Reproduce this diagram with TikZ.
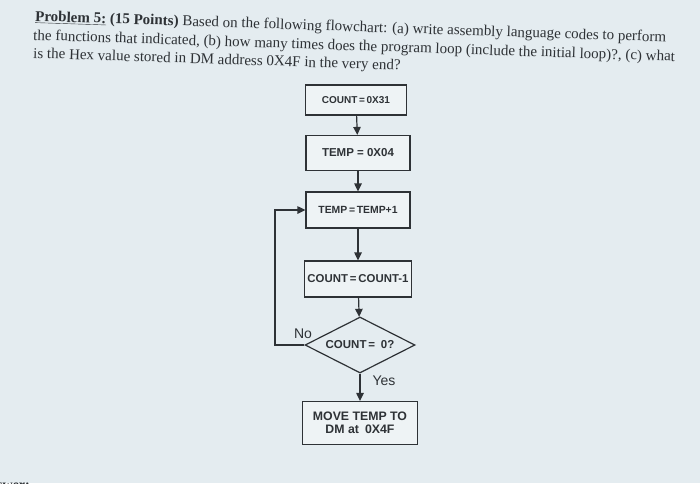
\documentclass[tikz,border=0pt]{standalone}
\usepackage{fontspec}
\setmainfont{Liberation Serif}
\newfontfamily\flowfont{Liberation Sans}
\usetikzlibrary{shapes.geometric,arrows.meta}
\definecolor{paper}{HTML}{E4ECF0}
\definecolor{boxfill}{HTML}{EEF3F5}
\definecolor{ink}{HTML}{2E3236}
\tikzset{
  stepbox/.style={draw=ink, line width=1.2pt, fill=boxfill, rectangle, inner sep=0pt, text=ink},
  decide/.style={draw=ink, line width=1.2pt, diamond, aspect=2, inner sep=0pt, minimum width=110pt, minimum height=56pt, text=ink},
  flow/.style={draw=ink, line width=1.2pt, -{Triangle[length=8pt,width=7.5pt]}},
  titleline/.style={anchor=base west, rotate=-1.9, inner sep=0pt, font=\fontsize{15}{17}\selectfont, text=ink},
  lbl/.style={font=\flowfont\fontsize{14}{16}\selectfont, text=ink, inner sep=0pt}
}
\newcommand{\ff}[1]{\flowfont\bfseries\fontsize{#1}{#1}\selectfont}
\begin{document}
\begin{tikzpicture}[x=1pt,y=-1pt]
\fill[paper] (0,0) rectangle (700,483);
\useasboundingbox (0,0) rectangle (700,483);
% title
\node[titleline] (t1) at (35,21) {\underline{\textbf{Problem 5:}} \textbf{(15 Points)} Based on the following flowchart: (a) write assembly language codes to perform};
\node[titleline] (t2) at (33,40) {the functions that indicated, (b) how many times does the program loop (include the initial loop)?, (c) what};
\node[titleline] (t3) at (33,58) {is the Hex value stored in DM address 0X4F in the very end?};
% flowchart
\node[stepbox, minimum width=101pt, minimum height=30pt, font=\ff{10}] (b1) at (356,100) {COUNT\,=\,0X31};
\node[stepbox, minimum width=104pt, minimum height=35pt, font=\ff{11.5}] (b2) at (358,153) {TEMP = 0X04};
\node[stepbox, minimum width=104pt, minimum height=36pt, font=\ff{10.4}] (b3) at (358,210) {TEMP\,=\,TEMP+1};
\node[stepbox, minimum width=107pt, minimum height=36pt, font=\ff{11.4}] (b4) at (358,279) {COUNT\,=\,COUNT-1};
\node[decide, font=\ff{11.5}] (d) at (360,345) {COUNT\,=\enspace 0?};
\node[stepbox, minimum width=115pt, minimum height=43pt, align=center, font=\ff{12.3}] (b5) at (360,423) {MOVE TEMP TO\\[1pt]DM at\enspace 0X4F};
\coordinate (lc) at (275,345);
\draw[flow] (b1) -- (b2);
\draw[flow] (b2) -- (b3);
\draw[flow] (b3) -- (b4);
\draw[flow] (b4) -- (d);
\draw[flow] (d) -- (b5);
\draw[flow] (d.west) -- (lc) |- (b3.west);
\node[lbl] (no) at (303,334) {No};
\node[lbl] (yes) at (384,381) {Yes};
% cut-off answer line
\node[anchor=west, inner sep=0pt, font=\fontsize{14}{16}\selectfont\bfseries, text=ink] (ans) at (-3,486) {swer:};
\end{tikzpicture}
\end{document}
